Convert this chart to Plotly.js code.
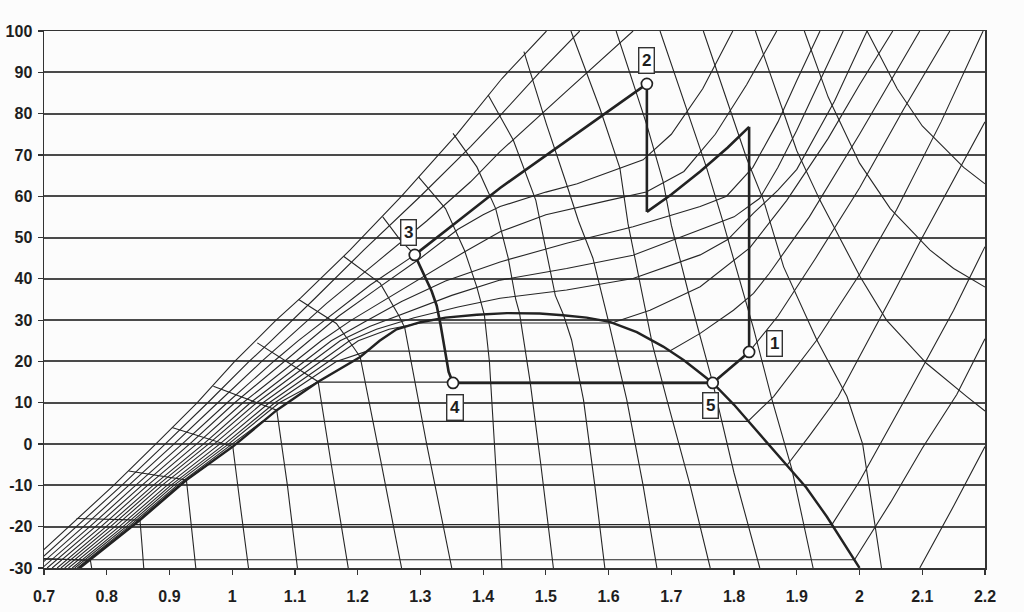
<!DOCTYPE html>
<html>
<head>
<meta charset="utf-8">
<script src="https://cdn.plot.ly/plotly-3.0.1.min.js"></script>
<style>
  html, body { margin: 0; padding: 0; background: #fcfcfc; }
  #chart { width: 1024px; height: 612px; }
</style>
</head>
<body>
<div id="chart"></div>
<script>
// ---------- axis ticks ----------
const xTickVals = [0.7, 0.8, 0.9, 1.0, 1.1, 1.2, 1.3, 1.4, 1.5, 1.6, 1.7, 1.8, 1.9, 2.0, 2.1, 2.2];
const xTickText = ['0.7', '0.8', '0.9', '1', '1.1', '1.2', '1.3', '1.4', '1.5', '1.6', '1.7', '1.8', '1.9', '2', '2.1', '2.2'];
const yTickVals = [-30, -20, -10, 0, 10, 20, 30, 40, 50, 60, 70, 80, 90, 100];
const yTickText = ['-30', '-20', '-10', '0', '10', '20', '30', '40', '50', '60', '70', '80', '90', '100'];

// ---------- saturation dome [s, T] ----------
const domeLine = [[0.757,-30],[0.853,-18.4],[0.927,-8.7],[1.001,-0.6],[1.071,8.2],[1.137,15.1],[1.204,21.1],[1.235,25],[1.262,27.8],[1.30,29.5],[1.34,30.6],[1.39,31.3],[1.438,31.7],[1.49,31.6],[1.527,31.2],[1.565,30.6],[1.602,29.6],[1.645,27.1],[1.687,23.6],[1.72,20.3],[1.746,17.2],[1.766,14.8],[1.80,9.5],[1.84,2.5],[1.878,-3.9],[1.915,-10.5],[1.948,-17.6],[1.975,-24],[2.0,-30]];

// ---------- isobars [s, T] ----------
const isobar01 = [[0.668,-30],[0.740,-20],[0.811,-10],[0.878,0],[0.944,10],[1.004,20],[1.037,25],[1.07,30],[1.11,35.5],[1.188,47],[1.27,60],[1.358,75],[1.43,88.5],[1.501,100]];
const isobar02 = [[0.679,-30],[0.752,-20],[0.824,-10],[0.893,0],[0.961,10],[1.027,20],[1.062,25],[1.13,35],[1.21,47],[1.30,60],[1.38,72],[1.427,79.5],[1.49,90],[1.554,100]];
const isobar03 = [[0.688,-30],[0.763,-20],[0.835,-10],[0.907,0],[0.977,10],[1.047,20],[1.084,25],[1.15,34],[1.23,44],[1.31,54],[1.38,63.5],[1.427,70.8],[1.53,85],[1.639,100]];
const isobar04 = [[0.697,-30],[0.773,-20],[0.846,-10],[0.920,0],[0.992,10],[1.066,20],[1.105,25],[1.16,31.5],[1.22,38.5],[1.291,45.8]];
const isobar05 = [[0.705,-30],[0.782,-20],[0.856,-10],[0.932,0],[1.004,10],[1.083,20],[1.123,25],[1.17,31],[1.23,37.5],[1.30,45],[1.36,52],[1.40,55.5],[1.427,57.5],[1.50,61],[1.55,63],[1.655,68.8],[1.70,75],[1.75,86],[1.798,100]];
const isobar06 = [[0.713,-30],[0.791,-20],[0.865,-10],[0.943,0],[1.017,10],[1.100,20],[1.142,25],[1.19,30],[1.25,35.5],[1.31,41],[1.37,46.5],[1.427,51.4],[1.50,55.5],[1.60,59],[1.66,61],[1.72,66],[1.77,75],[1.82,87],[1.868,100]];
const isobar07 = [[0.721,-30],[0.799,-20],[0.874,-10],[0.954,0],[1.029,10],[1.115,20],[1.158,25],[1.21,29.5],[1.27,34.5],[1.34,39.5],[1.427,44.1],[1.533,48.6],[1.639,52.6],[1.746,57.5],[1.788,60],[1.83,67],[1.87,78],[1.90,88],[1.937,100]];
const isobar08 = [[0.727,-30],[0.806,-20],[0.881,-10],[0.962,0],[1.039,10],[1.128,20],[1.172,25],[1.22,28.5],[1.28,32],[1.35,36],[1.427,39.7],[1.533,42.5],[1.639,45.7],[1.746,51.8],[1.80,55],[1.841,59.5],[1.87,67],[1.90,76],[1.974,100]];
const isobar09 = [[0.733,-30],[0.813,-20],[0.888,-10],[0.971,0],[1.049,10],[1.141,20],[1.187,25],[1.23,27.8],[1.29,30.6],[1.36,33.2],[1.427,35.3],[1.533,37.3],[1.639,40.1],[1.746,45.8],[1.79,49.5],[1.831,55.9],[1.87,61.5],[1.90,66.5],[1.96,83],[2.012,100]];
const isobar10 = [[0.739,-30],[0.820,-20],[0.896,-10],[0.980,0],[1.059,10],[1.154,20],[1.201,25],[1.25,27.8],[1.30,29.3],[1.605,29.3],[1.666,32.4],[1.746,38.1],[1.825,47.5],[1.884,59],[1.95,74],[2.0,87],[2.053,100]];
const isobar11 = [[0.745,-30],[0.826,-20],[0.902,-10],[0.988,0],[1.068,10],[1.166,20],[1.215,22.5],[1.697,22.5],[1.746,26.8],[1.799,32.4],[1.831,36.5],[1.856,41.3],[1.92,55],[2.0,75],[2.05,88],[2.096,100]];
const isobar12 = [[0.749,-30],[0.831,-20],[0.907,-10],[0.994,0],[1.075,10],[1.136,15],[1.766,15],[1.824,22.3],[1.87,31],[1.93,45],[2.0,62],[2.07,81],[2.144,100]];
const isobar13 = [[0.753,-30],[0.835,-20],[0.912,-10],[0.999,0],[1.048,5.5],[1.822,5.5],[1.863,11.5],[1.932,25.2],[2.001,41.3],[2.059,56.7],[2.13,78],[2.197,100]];
const isobar14 = [[0.755,-30],[0.838,-20],[0.915,-10],[0.961,-5],[1.885,-5],[1.92,2],[1.966,11.5],[2.054,36.5],[2.10,50],[2.15,64],[2.2,78]];
const isobar15 = [[0.756,-30],[0.844,-19.5],[1.956,-19.5],[2.0,-9],[2.075,11.5],[2.150,32.4],[2.2,47.8]];
const isobar16 = [[0.68,-27.8],[0.774,-28],[1.992,-28],[2.05,-14],[2.10,-1],[2.155,12],[2.2,25.5]];
const isobar17 = [[2.096,-30],[2.15,-15],[2.2,-0.6]];

// ---------- isenthalps [s, T] ----------
const enth00 = [[0.68,-27.6],[0.774,-28.2],[0.776,-30]];
const enth01 = [[0.752,-18],[0.853,-18.4],[0.856,-24],[0.859,-30]];
const enth02 = [[0.835,-6.5],[0.927,-8.7],[0.935,-20],[0.942,-30]];
const enth03 = [[0.904,4],[1.001,-0.6],[1.013,-15],[1.026,-30]];
const enth04 = [[0.97,14],[1.071,8.2],[1.088,-10],[1.104,-30]];
const enth05 = [[1.04,24.5],[1.137,15.1],[1.158,-5],[1.185,-30]];
const enth06 = [[1.106,35],[1.166,29.2],[1.193,23.5],[1.204,21.1],[1.238,-5],[1.270,-30]];
const enth07 = [[1.178,45.4],[1.236,38.9],[1.266,31],[1.275,28.2],[1.31,0],[1.33,-15],[1.350,-30]];
const enthP  = [[1.24,55],[1.268,49.4],[1.291,45.8]];
const enth08 = [[1.297,64.7],[1.34,57],[1.37,47],[1.39,38],[1.402,31.2],[1.41,20],[1.418,0],[1.430,-30]];
const enth09 = [[1.352,75.2],[1.390,67.1],[1.42,57],[1.44,45],[1.452,35],[1.458,31.7],[1.475,15],[1.492,-5],[1.512,-30]];
const enth10 = [[1.408,84.5],[1.448,73.6],[1.484,59],[1.50,47],[1.515,36],[1.528,31.3],[1.541,25.2],[1.560,10.7],[1.578,-10],[1.594,-30]];
const enth11 = [[1.465,95],[1.501,77.4],[1.533,62.9],[1.552,54],[1.575,45],[1.592,34.9],[1.600,29.6],[1.629,10.7],[1.655,-10],[1.677,-30]];
const enth12 = [[1.540,100],[1.586,81.3],[1.618,66.8],[1.631,53.3],[1.642,45],[1.655,34.9],[1.67,24],[1.693,10.7],[1.73,-10],[1.762,-30]];
const enth13 = [[1.612,100],[1.661,77.2],[1.687,63.5],[1.700,53],[1.73,35],[1.766,14.8],[1.80,-7],[1.841,-30]];
const enth14 = [[1.682,100],[1.724,81.3],[1.756,67],[1.78,55],[1.805,42],[1.831,28],[1.86,11],[1.892,-6],[1.926,-30]];
const enth15 = [[1.751,100],[1.793,81.3],[1.820,69.2],[1.847,59],[1.879,42.9],[1.932,25.2],[1.980,11.5],[2.005,0],[2.02,-15],[2.035,-30]];
const enth16 = [[1.834,100],[1.87,84],[1.90,71],[1.937,59],[2.001,40.5],[2.043,30],[2.107,19.5],[2.171,11.5],[2.2,8]];
const enth17 = [[1.912,100],[1.95,84],[2.0,68],[2.049,57],[2.112,47],[2.150,42.5],[2.2,38]];
const enth18 = [[2.012,100],[2.06,86],[2.10,77],[2.166,67],[2.2,63]];

// ---------- cycle (process) ----------
const proc51 = [[1.766,14.8],[1.824,22.3]];
const proc1c = [[1.824,22.3],[1.824,76.8]];
const procInter = [[1.824,76.8],[1.79,71.8],[1.746,66],[1.70,60.4],[1.661,56.2]];
const procC2 = [[1.661,56.2],[1.661,87.2]];
const proc23 = [[1.661,87.2],[1.58,78.5],[1.50,70],[1.427,62],[1.36,54],[1.291,45.8]];
const proc34 = [[1.291,45.8],[1.305,41.3],[1.318,37],[1.326,33.5],[1.332,29],[1.339,22.8],[1.345,17.5],[1.352,14.8]];
const proc45 = [[1.352,14.8],[1.766,14.8]];

const stateLabels = ['1', '2', '3', '4', '5'];
const stateS = [1.824, 1.661, 1.291, 1.352, 1.766];
const stateT = [22.3, 87.2, 45.8, 14.8, 14.8];

// ---------- build traces ----------
const thinColor = '#262626';
const boldColor = '#222222';
const fontFamily = 'Liberation Sans, Arial, sans-serif';

function lineTrace(pts, width, color) {
  return {
    x: pts.map(p => p[0]),
    y: pts.map(p => p[1]),
    mode: 'lines',
    type: 'scatter',
    line: { color: color, width: width },
    hoverinfo: 'skip',
    showlegend: false
  };
}

const isobars = [isobar01, isobar02, isobar03, isobar04, isobar05, isobar06, isobar07, isobar08, isobar09,
                 isobar10, isobar11, isobar12, isobar13, isobar14, isobar15, isobar16, isobar17];
const isenthalps = [enth00, enth01, enth02, enth03, enth04, enth05, enth06, enth07, enthP, enth08, enth09,
                    enth10, enth11, enth12, enth13, enth14, enth15, enth16, enth17, enth18];
const processLines = [proc51, proc1c, procInter, procC2, proc23, proc34, proc45];

const traces = [];
isobars.forEach(p => traces.push(lineTrace(p, 1.1, thinColor)));
isenthalps.forEach(p => traces.push(lineTrace(p, 1.1, thinColor)));
traces.push(lineTrace(domeLine, 2.4, boldColor));
processLines.forEach(p => traces.push(lineTrace(p, 2.6, boldColor)));

traces.push({
  x: stateS, y: stateT, mode: 'markers', type: 'scatter',
  marker: { symbol: 'circle', size: 11, color: '#ffffff', line: { color: '#222', width: 1.7 } },
  hoverinfo: 'skip', showlegend: false
});

const labelShift = [[25, 8], [0, 23], [-6, 22], [2, -25], [-2, -23]];
const annotations = stateLabels.map((t, i) => ({
  x: stateS[i], y: stateT[i], xref: 'x', yref: 'y',
  text: t, showarrow: false,
  xshift: labelShift[i][0], yshift: labelShift[i][1],
  font: { family: fontFamily, size: 17, color: '#1e1e1e', weight: 'bold' },
  bgcolor: '#ffffff', bordercolor: '#333', borderwidth: 1.4, borderpad: 2.5
}));

const layout = {
  width: 1024, height: 612,
  margin: { l: 44, r: 39, t: 31, b: 44 },
  paper_bgcolor: '#fcfcfc',
  plot_bgcolor: '#fcfcfc',
  showlegend: false,
  font: { family: fontFamily, size: 16, color: '#1e1e1e' },
  xaxis: {
    range: [0.7, 2.2],
    tickmode: 'array', tickvals: xTickVals, ticktext: xTickText,
    ticks: 'outside', ticklen: 5, tickwidth: 1.2, tickcolor: '#333',
    showgrid: false, zeroline: false,
    showline: true, linecolor: '#333', linewidth: 1.5, mirror: true,
    ticklabelstandoff: 8,
    tickfont: { family: fontFamily, size: 16, color: '#1e1e1e', weight: 'bold' }
  },
  yaxis: {
    range: [-30, 100],
    tickmode: 'array', tickvals: yTickVals, ticktext: yTickText,
    ticks: 'outside', ticklen: 5, tickwidth: 1.2, tickcolor: '#333',
    showgrid: true, gridcolor: '#4a4a4a', gridwidth: 2, zeroline: false,
    showline: true, linecolor: '#333', linewidth: 1.5, mirror: true,
    ticklabelstandoff: 2,
    tickfont: { family: fontFamily, size: 16, color: '#1e1e1e', weight: 'bold' }
  },
  annotations: annotations
};

Plotly.newPlot('chart', traces, layout, { staticPlot: true, displayModeBar: false });
</script>
</body>
</html>
